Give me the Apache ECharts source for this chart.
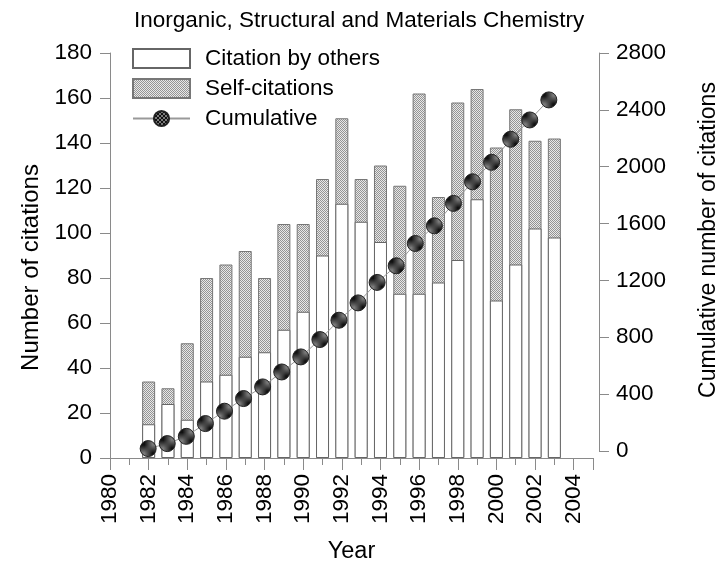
<!DOCTYPE html>
<html>
<head>
<meta charset="utf-8">
<script src="https://cdn.jsdelivr.net/npm/echarts@6/dist/echarts.min.js"></script>
<style>
  html, body { margin: 0; padding: 0; background: #fff; }
  #chart { width: 728px; height: 569px; }
</style>
</head>
<body>
<div id="chart"></div>
<script>
const years = [1982, 1983, 1984, 1985, 1986, 1987, 1988, 1989, 1990, 1991, 1992,
  1993, 1994, 1995, 1996, 1997, 1998, 1999, 2000, 2001, 2002, 2003];
const byOthers = [15, 24, 17, 34, 37, 45, 47, 57, 65, 90, 113,
  105, 96, 73, 73, 78, 88, 115, 70, 86, 102, 98];
const selfCitations = [19, 7, 34, 46, 49, 47, 33, 47, 39, 34, 38,
  19, 34, 48, 89, 38, 70, 49, 68, 69, 39, 44];
const cumulative = [17, 52, 103, 193, 280, 369, 451, 556, 662, 784, 920,
  1042, 1186, 1303, 1460, 1584, 1742, 1894, 2031, 2193, 2329, 2470];

const FONT = 'Liberation Sans, Arial, sans-serif';
const AXIS_GRAY = '#8a8a8a';

// checker patterns for the hatched fills
function checker(size, c1, c2) {
  const cv = document.createElement('canvas');
  cv.width = size * 2;
  cv.height = size * 2;
  const ctx = cv.getContext('2d');
  ctx.fillStyle = c1;
  ctx.fillRect(0, 0, size * 2, size * 2);
  ctx.fillStyle = c2;
  ctx.fillRect(0, 0, size, size);
  ctx.fillRect(size, size, size, size);
  return { image: cv, repeat: 'repeat' };
}
const selfFill = checker(1, '#e8e8e8', '#949494');
const markerFill = checker(2, '#7a7a7a', '#111111');

const pairs = (vals) => years.map((y, i) => [y, vals[i]]);
// self-citation bar sits on top of the "others" part: draw the full height,
// then the white part over it
const totals = byOthers.map((v, i) => v + selfCitations[i]);
const plain = (v) => String(v);

const chart = echarts.init(document.getElementById('chart'));

const xBase = {
  type: 'value',
  min: 1980,
  max: 2005,
  interval: 2
};

chart.setOption({
  animation: false,
  backgroundColor: '#fff',
  title: {
    text: 'Inorganic, Structural and Materials Chemistry',
    left: 129,
    top: 4,
    textStyle: { fontFamily: FONT, fontSize: 22.5, fontWeight: 'normal', color: '#000' }
  },
  legend: {
    orient: 'vertical',
    left: 127,
    top: 42,
    itemWidth: 57,
    itemHeight: 19,
    itemGap: 7,
    textStyle: { fontFamily: FONT, fontSize: 22.5, color: '#000', lineHeight: 20, padding: [0, 0, 0, 10] },
    data: [
      { name: 'Citation by others', icon: 'rect' },
      { name: 'Self-citations', icon: 'rect' },
      { name: 'Cumulative' }
    ]
  },
  grid: [
    { left: 110, right: 135, top: 53, bottom: 107 },
    { left: 110, right: 135, top: 53, bottom: 118 }
  ],
  xAxis: [
    Object.assign({}, xBase, {
      gridIndex: 0,
      name: 'Year',
      nameLocation: 'middle',
      nameGap: 82,
      nameTextStyle: { fontFamily: FONT, fontSize: 23.5, color: '#000' },
      axisLine: { show: true, lineStyle: { color: AXIS_GRAY, width: 1 } },
      axisTick: { show: true, length: 12, lineStyle: { color: AXIS_GRAY } },
      minorTick: { show: true, splitNumber: 2, length: 7, lineStyle: { color: AXIS_GRAY } },
      axisLabel: { rotate: 90, margin: 16, fontFamily: FONT, fontSize: 22.5, color: '#000', formatter: plain },
      splitLine: { show: false }
    }),
    Object.assign({}, xBase, {
      gridIndex: 1,
      show: false
    })
  ],
  yAxis: [
    {
      type: 'value',
      gridIndex: 0,
      min: 0,
      max: 180,
      interval: 20,
      name: 'Number of citations',
      nameLocation: 'middle',
      nameGap: 57,
      nameTextStyle: { fontFamily: FONT, fontSize: 24, color: '#000', padding: [0, 24, 0, 0] },
      axisLine: { show: true, lineStyle: { color: AXIS_GRAY, width: 1 } },
      axisTick: { show: true, length: 10, lineStyle: { color: AXIS_GRAY } },
      axisLabel: { margin: 18, fontFamily: FONT, fontSize: 22.5, color: '#000', formatter: plain },
      splitLine: { show: false }
    },
    {
      type: 'value',
      gridIndex: 1,
      position: 'right',
      offset: 12,
      min: 0,
      max: 2800,
      interval: 400,
      name: 'Cumulative number of citations',
      nameLocation: 'middle',
      nameGap: 98,
      nameTextStyle: { fontFamily: FONT, fontSize: 23, color: '#000', padding: [0, 0, 0, 24] },
      axisLine: { show: true, lineStyle: { color: AXIS_GRAY, width: 1 } },
      axisTick: { show: true, length: 10, lineStyle: { color: AXIS_GRAY } },
      axisLabel: { margin: 17, fontFamily: FONT, fontSize: 22.5, color: '#000', formatter: plain },
      splitLine: { show: false }
    }
  ],
  series: [
    {
      name: 'Self-citations',
      type: 'bar',
      xAxisIndex: 0,
      yAxisIndex: 0,
      barWidth: 13,
      barGap: '-100%',
      itemStyle: { color: selfFill, borderColor: '#777', borderWidth: 1 },
      data: pairs(totals)
    },
    {
      name: 'Citation by others',
      type: 'bar',
      xAxisIndex: 0,
      yAxisIndex: 0,
      barWidth: 13,
      barGap: '-100%',
      itemStyle: { color: '#fff', borderColor: '#666', borderWidth: 1 },
      data: pairs(byOthers)
    },
    {
      name: 'Cumulative',
      type: 'line',
      xAxisIndex: 1,
      yAxisIndex: 1,
      symbol: 'circle',
      symbolSize: 16,
      lineStyle: { color: '#999', width: 1 },
      itemStyle: { color: markerFill, borderColor: '#222', borderWidth: 1 },
      data: pairs(cumulative),
      z: 5
    }
  ]
});
</script>
</body>
</html>
